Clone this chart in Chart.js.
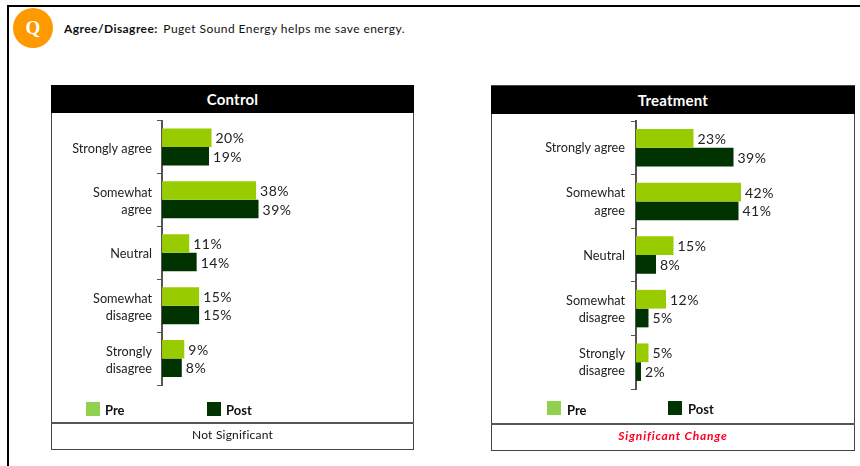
<!DOCTYPE html>
<html>
<head>
<meta charset="utf-8">
<script src="https://cdn.jsdelivr.net/npm/chart.js@4"></script>
<style>
html, body { margin: 0; padding: 0; background: #fff; }
body { width: 860px; height: 466px; position: relative; overflow: hidden; font-family: Lato, sans-serif; color: #111; }
.abs { position: absolute; }
.frame { left: 7px; top: 5px; width: 860px; height: 470px; border: 2px solid #000; box-sizing: border-box; }
.q { left: 13px; top: 8px; width: 40px; height: 40px; border-radius: 50%; background: #ff9900; color: #fff; font: bold 19px/40px "Liberation Serif", serif; text-align: center; }
.question { left: 64px; top: 21px; font-size: 12px; line-height: 16px; white-space: nowrap; letter-spacing: 0.43px; }
.question b { margin-right: 2px; }
.panel { border: 1px solid #444; box-sizing: border-box; }
.head { background: #000; color: #fff; font-weight: bold; font-size: 15px; letter-spacing: 0.2px; text-align: center; box-sizing: border-box; }
.foot { font-size: 12px; text-align: center; letter-spacing: 0.2px; }
.sig { color: #ff0020; font-weight: bold; font-style: italic; letter-spacing: 0.8px; }
.line { background: #555; height: 2px; }
.swatch { width: 14px; height: 14px; }
.leg { font-size: 13px; font-weight: bold; line-height: 16px; }
canvas { position: absolute; }
</style>
</head>
<body>
<div class="abs frame"></div>
<div class="abs q">Q</div>
<div class="abs question"><b>Agree/Disagree:</b> Puget Sound Energy helps me save energy.</div>

<div class="abs panel" style="left:51px;top:85px;width:363px;height:365px"></div>
<div class="abs head" style="left:51px;top:85px;width:363px;height:28px;line-height:28px">Control</div>
<canvas id="controlChart" style="left:52px;top:113px" width="360" height="309"></canvas>
<div class="abs swatch" style="left:86px;top:402px;background:#92d050"></div>
<div class="abs leg" style="left:105px;top:402px">Pre</div>
<div class="abs swatch" style="left:207px;top:402px;background:#003300"></div>
<div class="abs leg" style="left:226px;top:402px">Post</div>
<div class="abs line" style="left:51px;top:422px;width:363px"></div>
<div class="abs foot" style="left:51px;top:427px;width:363px">Not Significant</div>

<div class="abs panel" style="left:491px;top:85px;width:364px;height:366px"></div>
<div class="abs head" style="left:491px;top:86px;width:364px;height:28px;line-height:28px">Treatment</div>
<canvas id="treatmentChart" style="left:492px;top:114px" width="361" height="308"></canvas>
<div class="abs swatch" style="left:547px;top:401px;background:#92d050"></div>
<div class="abs leg" style="left:567px;top:402px">Pre</div>
<div class="abs swatch" style="left:668px;top:401px;background:#003300"></div>
<div class="abs leg" style="left:688px;top:401px">Post</div>
<div class="abs line" style="left:491px;top:423px;width:364px"></div>
<div class="abs foot sig" style="left:491px;top:428px;width:364px">Significant Change</div>

<script>
const categories = [
	'Strongly agree',
	['Somewhat', 'agree'],
	'Neutral',
	['Somewhat', 'disagree'],
	['Strongly', 'disagree']
];
const controlPre = [20, 38, 11, 15, 9];
const controlPost = [19, 39, 14, 15, 8];
const treatmentPre = [23, 42, 15, 12, 5];
const treatmentPost = [39, 41, 8, 5, 2];

// value labels at the end of each bar
const barLabels = {
	id: 'barLabels',
	afterDatasetsDraw(chart) {
		const ctx = chart.ctx;
		ctx.save();
		ctx.font = '14px Lato, sans-serif';
		ctx.letterSpacing = '0.5px';
		ctx.fillStyle = '#222';
		ctx.textBaseline = 'middle';
		chart.data.datasets.forEach((ds, d) => {
			chart.getDatasetMeta(d).data.forEach((bar, i) => {
				ctx.fillText(ds.data[i] + '%', bar.x + 4, bar.y + 1);
			});
		});
		ctx.restore();
	}
};

function makeChart(id, pre, post, axisLeft, labelGap, labelShift, pad) {
	return new Chart(document.getElementById(id), {
		type: 'bar',
		data: {
			labels: categories,
			datasets: [
				{ label: 'Pre', data: pre, backgroundColor: '#99cc00', barPercentage: 1, categoryPercentage: 0.7 },
				{ label: 'Post', data: post, backgroundColor: '#003300', barPercentage: 1, categoryPercentage: 0.7 }
			]
		},
		options: {
			indexAxis: 'y',
			responsive: false,
			animation: false,
			layout: { padding: pad },
			plugins: { legend: { display: false }, tooltip: { enabled: false } },
			scales: {
				x: { display: false, min: 0, max: 80 },
				y: {
					// fixed axis position, no extra room for the outer labels
					afterFit(scale) {
						scale.width = axisLeft;
						scale.paddingTop = 0;
						scale.paddingBottom = 0;
					},
					border: { color: '#555', width: 2 },
					grid: { drawOnChartArea: false, color: '#555', tickLength: 5, tickWidth: 1 },
					ticks: {
						color: '#222',
						padding: labelGap,
						labelOffset: labelShift,
						autoSkip: false,
						font: { family: 'Lato, sans-serif', size: 12.7, lineHeight: 1.35 }
					}
				}
			}
		},
		plugins: [barLabels]
	});
}

makeChart('controlChart', controlPre, controlPost, 110, 5, 1.5, { top: 7.5, bottom: 37, left: 0, right: 52 });
makeChart('treatmentChart', treatmentPre, treatmentPost, 144, 6, 0.5, { top: 7, bottom: 33, left: 0, right: 17 });
</script>
</body>
</html>
